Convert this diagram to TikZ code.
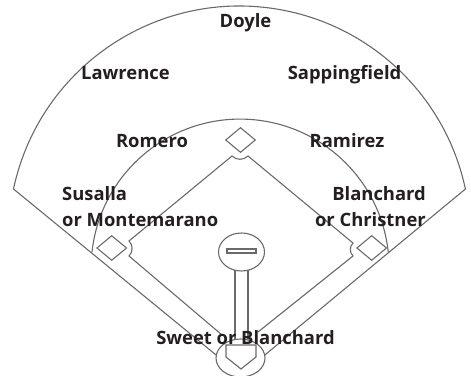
\documentclass[tikz,border=0pt]{standalone}
\usepackage{fontspec}
\setmainfont{Open Sans}
\usepackage{xcolor}
\usetikzlibrary{shapes.geometric, positioning}
\definecolor{fieldline}{HTML}{6A6A6A}
\definecolor{labeltext}{HTML}{231F20}

\begin{document}
\begin{tikzpicture}[
        x=1pt, y=1pt,
        line/.style={draw=fieldline, line width=1.1pt},
        base/.style={diamond, draw=fieldline, line width=1.1pt, minimum width=30pt, minimum height=25pt, inner sep=0pt, aspect=1.2},
        player/.style={inner sep=0pt, text=labeltext, align=center, font=\fontsize{18.4}{26}\selectfont\bfseries}
        ]
        \useasboundingbox (0,0) rectangle (471,375);

        % Corners of the field
        \coordinate (foulL) at (13.5,186);
        \coordinate (plateL) at (221,16);
        \coordinate (plateR) at (260,16);
        \coordinate (infieldL) at (92,123);
        \coordinate (grassTL) at (232,219);
        \coordinate (grassTR) at (248,219);
        \coordinate (grassLT) at (129,134);
        \coordinate (grassLB) at (129,119);
        \coordinate (grassRT) at (353,132);
        \coordinate (grassRB) at (353,119);
        \coordinate (grassBL) at (222,40);
        \coordinate (grassBR) at (258,43);
        \coordinate (runwayLT) at (235,105);
        \coordinate (runwayLB) at (235,30);
        \coordinate (runwayRT) at (248,105);
        \coordinate (runwayRB) at (248,30);

        % Outfield and infield arcs
        \draw [line] (plateL) -- (foulL) arc[start angle=168, end angle=12, radius=231] -- (plateR);
        \draw [line] (infieldL) arc[start angle=173.8, end angle=6.2, radius=149];

        % Grass
        \draw [line] (grassBL) -- (grassLB) to[bend right=45] (grassLT) -- (grassTL) to[bend right=45] (grassTR) -- (grassRT) to[bend right=45] (grassRB) -- (grassBR);

        % Bases
        \node (second) [base] at (240.5,235) {};
        \node (third) [base] at (111.7,127) {};
        \node (first) [base] at (371.7,127) {};

        % Mound
        \draw [line] (runwayLT) -- (runwayLB);
        \draw [line] (runwayRT) -- (runwayRB);
        \node (mound) [ellipse, draw=fieldline, fill=white, line width=1.1pt, minimum width=46pt, minimum height=38pt, inner sep=0pt] at (241.5,123) {};
        \node (rubber) [rectangle, draw=fieldline, line width=1.1pt, minimum width=29pt, minimum height=4pt, inner sep=0pt] at (241.5,124) {};

        % Home
        \node (home) [ellipse, draw=fieldline, fill=white, line width=1.1pt, minimum width=49pt, minimum height=38pt, inner sep=0pt] at (240.5,17) {};
        \draw [line] (226,30) -- (226,18) -- (241,6) -- (256,18) -- (256,30) -- cycle;

        % Labels
        \node (doyle) [player, anchor=base] at (245.5,347) {Doyle};
        \node (lawrence) [player, anchor=base] at (125.5,295) {Lawrence};
        \node (sappingfield) [player, anchor=base] at (344.5,295) {Sappingfield};
        \node (romero) [player, anchor=base] at (152,227) {Romero};
        \node (ramirez) [player, anchor=base] at (347,227) {Ramirez};
        \node (susalla) [player, align=left, anchor=west] at (62,168) {Susalla\\or Montemarano};
        \node (blanchard) [player, align=right, anchor=east] at (426,168) {Blanchard\\or Christner};
        \node (sweet) [player, anchor=base] at (245.5,31) {Sweet or Blanchard};
    \end{tikzpicture}
\end{document}
